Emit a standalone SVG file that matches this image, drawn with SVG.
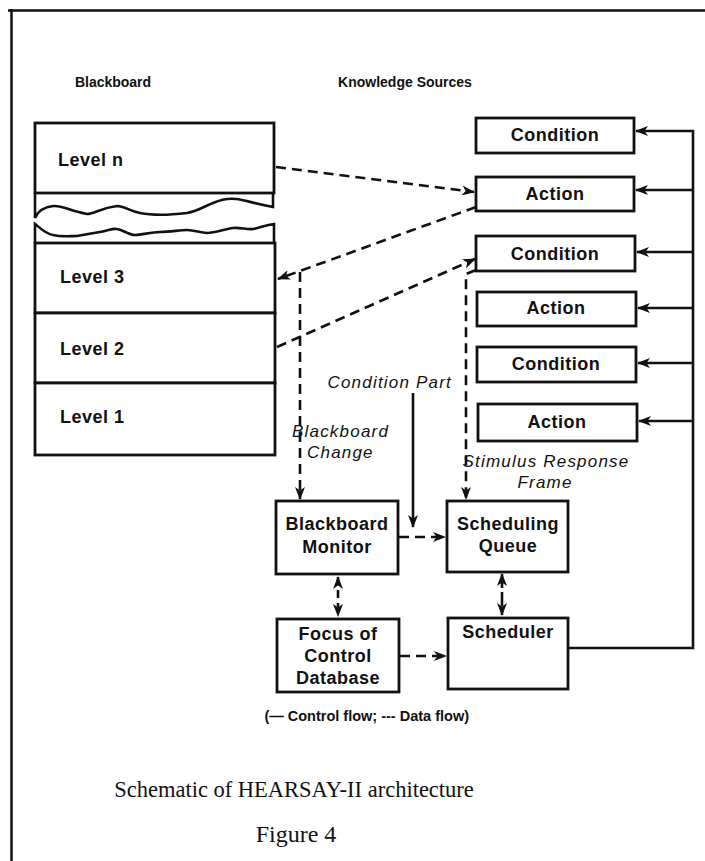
<svg xmlns="http://www.w3.org/2000/svg" width="705" height="861" viewBox="0 0 705 861">
  <style>
    .box { fill: #fff; stroke: #111; stroke-width: 2.8; }
    .lbl { font-family: "Liberation Sans", Arial, sans-serif; font-weight: bold; font-size: 18px; letter-spacing: 0.5px; fill: #111; }
    .ttl { font-family: "Liberation Sans", Arial, sans-serif; font-weight: bold; font-size: 14px; fill: #111; }
    .ital { font-family: "Liberation Sans", Arial, sans-serif; font-style: italic; font-size: 17px; letter-spacing: 1.2px; fill: #111; }
    .cap { font-family: "Liberation Serif", "Times New Roman", serif; font-size: 22.5px; fill: #111; }
    .ctl { fill: none; stroke: #111; stroke-width: 2.6; }
    .dat { fill: none; stroke: #111; stroke-width: 2.6; stroke-dasharray: 10 6; }
    .frm { fill: none; stroke: #111; stroke-width: 2.5; }
  </style>
  <defs>
    <marker id="ah" viewBox="0 0 13 10" refX="12" refY="5" markerWidth="13" markerHeight="10" markerUnits="userSpaceOnUse" orient="auto-start-reverse">
      <path d="M0,0 L13,5 L0,10 L3.5,5 z" fill="#111"/>
    </marker>
  </defs>

  <rect x="0" y="0" width="705" height="861" fill="#fff"/>

  <!-- page frame: top rule and left rule -->
  <g id="frame">
    <path class="frm" d="M8,10.5 H705 M11.5,9 V861"/>
  </g>

  <!-- column headings -->
  <g id="headings">
    <text class="ttl" x="113" y="87" text-anchor="middle">Blackboard</text>
    <text class="ttl" x="405" y="87" text-anchor="middle">Knowledge Sources</text>
  </g>

  <!-- blackboard levels -->
  <g id="bb-level-n">
    <rect class="box" x="35" y="123" width="239" height="70"/>
    <text class="lbl" x="58" y="166">Level n</text>
  </g>
  <g id="bb-break">
    <path class="ctl" d="M35,193 V218 C38,211 44,207 53,206 C62,205 70,211 87,214 C95,214 100,208 117,206 C124,206 130,211 140,213 C150,215 170,215 187,213 C198,211 205,206 213,203 C220,200 228,198 236,199 C245,200 252,203 273,207 V193"/>
    <path class="ctl" d="M35,243 V224 C40,228 46,234 53,235 C62,237 70,236 77,236 C86,235 92,233 100,232 C108,231 112,228 117,229 C124,230 128,235 135,235 C143,235 150,232 160,232 C170,232 180,230 187,230 C195,230 200,233 207,233 C215,233 225,229 233,228 C240,227 247,230 253,229 C260,228 265,225 274,224 V243"/>
  </g>
  <g id="bb-level-3">
    <rect class="box" x="35" y="243" width="240" height="70"/>
    <text class="lbl" x="60" y="283">Level 3</text>
  </g>
  <g id="bb-level-2">
    <rect class="box" x="35" y="313" width="240" height="70"/>
    <text class="lbl" x="60" y="355">Level 2</text>
  </g>
  <g id="bb-level-1">
    <rect class="box" x="35" y="383" width="240" height="72"/>
    <text class="lbl" x="60" y="423">Level 1</text>
  </g>

  <!-- knowledge sources -->
  <g id="ks-condition-1">
    <rect class="box" x="476" y="118" width="158" height="35"/>
    <text class="lbl" x="555" y="141" text-anchor="middle">Condition</text>
  </g>
  <g id="ks-action-1">
    <rect class="box" x="476" y="177" width="158" height="34"/>
    <text class="lbl" x="555" y="200" text-anchor="middle">Action</text>
  </g>
  <g id="ks-condition-2">
    <rect class="box" x="476" y="236" width="159" height="35"/>
    <text class="lbl" x="555" y="260" text-anchor="middle">Condition</text>
  </g>
  <g id="ks-action-2">
    <rect class="box" x="477" y="292" width="159" height="34"/>
    <text class="lbl" x="556" y="314" text-anchor="middle">Action</text>
  </g>
  <g id="ks-condition-3">
    <rect class="box" x="477" y="347" width="159" height="35"/>
    <text class="lbl" x="556" y="370" text-anchor="middle">Condition</text>
  </g>
  <g id="ks-action-3">
    <rect class="box" x="478" y="404" width="159" height="37"/>
    <text class="lbl" x="557" y="428" text-anchor="middle">Action</text>
  </g>

  <!-- control components -->
  <g id="blackboard-monitor">
    <rect class="box" x="276" y="501" width="122" height="73"/>
    <text class="lbl" x="337" y="530" text-anchor="middle">Blackboard</text>
    <text class="lbl" x="337" y="553" text-anchor="middle">Monitor</text>
  </g>
  <g id="scheduling-queue">
    <rect class="box" x="447" y="501" width="121" height="71"/>
    <text class="lbl" x="508" y="530" text-anchor="middle">Scheduling</text>
    <text class="lbl" x="508" y="552" text-anchor="middle">Queue</text>
  </g>
  <g id="focus-of-control">
    <rect class="box" x="277" y="619" width="122" height="73"/>
    <text class="lbl" x="338" y="640" text-anchor="middle">Focus of</text>
    <text class="lbl" x="338" y="662" text-anchor="middle">Control</text>
    <text class="lbl" x="338" y="684" text-anchor="middle">Database</text>
  </g>
  <g id="scheduler">
    <rect class="box" x="448" y="618" width="120" height="71"/>
    <text class="lbl" x="508" y="638" text-anchor="middle">Scheduler</text>
  </g>

  <!-- connectors -->
  <g id="connectors">
    <!-- data flow -->
    <path class="dat" d="M276,167 L474,192" marker-end="url(#ah)"/>
    <path class="dat" d="M476,207 L278,279" marker-end="url(#ah)"/>
    <path class="dat" d="M277,347 L475,259" marker-end="url(#ah)"/>
    <path class="dat" d="M300,272 V499" marker-end="url(#ah)"/>
    <path class="dat" d="M476,270 L466,274 V499" marker-end="url(#ah)"/>
    <path class="dat" d="M399,537 H445" marker-end="url(#ah)"/>
    <path class="dat" d="M400,656 H446" marker-end="url(#ah)"/>
    <path class="dat" d="M338,577 V616" marker-start="url(#ah)" marker-end="url(#ah)" style="stroke-dasharray:8 5"/>
    <path class="dat" d="M502,574 V615" marker-start="url(#ah)" marker-end="url(#ah)" style="stroke-dasharray:14 4"/>
    <!-- control flow -->
    <path class="ctl" d="M413,393 V527" marker-end="url(#ah)"/>
    <path class="ctl" d="M569,648 H693 V131 H636" marker-end="url(#ah)"/>
    <path class="ctl" d="M693,190 H636" marker-end="url(#ah)"/>
    <path class="ctl" d="M693,252 H637" marker-end="url(#ah)"/>
    <path class="ctl" d="M693,308 H638" marker-end="url(#ah)"/>
    <path class="ctl" d="M693,363 H638" marker-end="url(#ah)"/>
    <path class="ctl" d="M693,421 H639" marker-end="url(#ah)"/>
  </g>

  <!-- connector labels -->
  <g id="labels">
    <text class="ital" x="452" y="388" text-anchor="end">Condition Part</text>
    <text class="ital" x="292" y="437">Blackboard</text>
    <text class="ital" x="307" y="458">Change</text>
    <text class="ital" x="546" y="467" text-anchor="middle">Stimulus Response</text>
    <text class="ital" x="545" y="488" text-anchor="middle">Frame</text>
  </g>

  <!-- legend and caption -->
  <g id="caption">
    <text class="ttl" x="469" y="721" text-anchor="end" style="font-size:14.5px">(— Control flow; --- Data flow)</text>
    <text class="cap" x="294" y="797" text-anchor="middle">Schematic of HEARSAY-II architecture</text>
    <text class="cap" x="296" y="842" text-anchor="middle" style="font-size:24px">Figure 4</text>
  </g>
</svg>
